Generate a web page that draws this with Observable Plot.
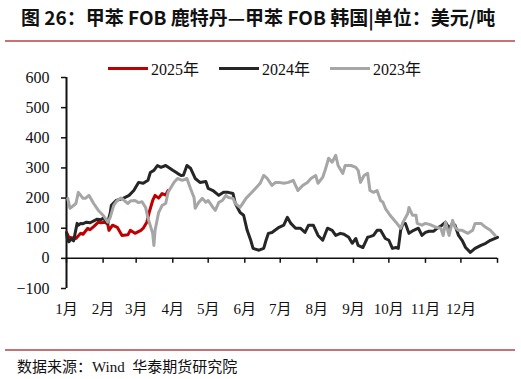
<!DOCTYPE html>
<html><head><meta charset="utf-8">
<script src="https://cdn.jsdelivr.net/npm/d3@7"></script>
<script src="https://cdn.jsdelivr.net/npm/@observablehq/plot@0.6"></script>
<style>
body{margin:0;background:#fff;width:521px;height:379px;position:relative;overflow:hidden;font-family:"Liberation Serif","Noto Sans CJK SC",serif;}
#title{position:absolute;left:21px;top:4px;font-family:"Noto Sans CJK SC",sans-serif;font-weight:bold;font-size:19px;color:#111;white-space:pre;line-height:26px}
.rule{position:absolute;left:5px;width:510px;height:2px;background:#C87373}
#legend{position:absolute;top:58px;left:108px;height:20px;display:flex;align-items:center;font-size:16px;color:#111;white-space:nowrap}
.item{display:flex;align-items:center;margin-right:20px}
.sw{width:40px;height:3px;margin-right:3px}
#chart{position:absolute;left:0;top:50px}
#caption{position:absolute;left:17px;top:355px;font-size:15px;color:#111;white-space:nowrap}
</style></head>
<body>
<div id="title">图 26：甲苯 FOB 鹿特丹—甲苯 FOB 韩国|单位：美元/吨</div>
<div class="rule" style="top:40px"></div>
<div id="legend"></div>
<div id="chart"></div>
<div class="rule" style="top:349px"></div>
<div id="caption">数据来源：Wind&nbsp; 华泰期货研究院</div>
<script>
const seriesNames = ["2025年", "2024年", "2023年"];
const seriesColors = ["#C00000", "#262626", "#A6A6A6"];
const monthLabels = ["1月","2月","3月","4月","5月","6月","7月","8月","9月","10月","11月","12月"];
const monthStarts = [0,31,59,90,120,151,181,212,243,273,304,334,365];
const yTicks = [-100,0,100,200,300,400,500,600];

const days2025 = [0,2,8,12,14,18,20,23,27,29,33,35,36,39,43,47,52,54,58,63,65,68,70,73,75,78,81,84,86];
const vals2025 = [86,70,66,83,80,100,95,105,120,118,120,112,93,110,103,76,78,93,83,93,100,120,152,192,209,200,215,210,225];

const days2024 = [0,1,2,4,6,9,10,12,14,17,20,24,26,29,31,33,35,36,37,38,42,48,53,57,61,65,69,71,74,77,80,84,90,94,97,99,102,105,109,113,118,120,124,129,133,137,141,143,147,150,153,156,158,163,167,169,171,174,180,184,187,190,194,198,202,205,209,213,217,221,225,228,232,235,239,242,245,247,251,255,257,260,263,266,270,273,276,279,281,283,285,287,290,294,298,301,304,307,311,314,318,321,324,327,329,332,335,338,342,346,351,355,359,365];
const vals2024 = [85,60,55,65,58,116,110,116,115,120,118,126,130,128,133,126,116,136,150,176,192,199,209,225,252,249,259,285,292,308,302,308,292,282,275,276,308,299,265,252,255,232,225,209,219,219,215,182,152,143,93,60,33,27,33,60,83,86,103,110,136,116,100,100,86,110,110,76,60,100,93,76,83,80,70,50,66,43,36,70,72,76,93,93,66,60,33,36,33,93,116,116,83,93,100,76,86,90,90,100,110,120,100,116,110,76,60,36,20,33,43,50,60,70];

const days2023 = [1,3,8,10,14,16,19,23,27,31,35,37,40,43,46,48,52,54,58,61,64,67,69,73,74,75,78,81,84,86,91,94,98,102,105,108,109,112,115,118,120,124,126,129,132,135,137,141,143,147,152,156,160,164,167,170,174,177,180,184,188,192,196,200,204,207,211,213,217,219,222,225,228,230,234,236,241,245,247,249,252,255,257,260,263,266,268,270,274,279,283,285,289,290,293,296,297,301,304,308,313,317,319,321,324,327,329,332,335,340,344,346,351,355,359,363];
const vals2023 = [199,166,182,219,199,199,209,182,159,143,120,136,176,192,200,195,182,190,192,185,188,169,133,83,43,93,152,176,182,219,252,265,259,265,232,202,166,186,199,186,192,169,159,186,192,209,202,199,182,169,199,215,232,249,275,265,242,252,252,249,252,259,225,242,252,265,275,249,269,292,332,319,342,308,282,308,308,302,292,252,275,282,225,219,225,192,186,166,143,120,100,120,149,169,143,143,116,110,116,112,103,100,76,120,76,126,103,93,93,83,93,116,116,103,93,76];

const allDays = [days2025, days2024, days2023];
const allVals = [vals2025, vals2024, vals2023];
const rows = [];
allDays.forEach((ds, s) => ds.forEach((d, i) => rows.push({series: seriesNames[s], day: d, value: allVals[s][i]})));

const leg = document.getElementById("legend");
seriesNames.forEach((n, i) => {
  const it = document.createElement("div"); it.className = "item";
  it.innerHTML = `<div class="sw" style="background:${seriesColors[i]}"></div><span>${n}</span>`;
  leg.appendChild(it);
});

const lineMarks = seriesNames.map((n, i) =>
  Plot.line(rows.filter(r => r.series === n), {x: "day", y: "value", stroke: seriesColors[i], strokeWidth: 3, strokeLinejoin: "round"}));

const chart = Plot.plot({
  width: 521, height: 290,
  marginLeft: 66, marginRight: 24, marginTop: 27, marginBottom: 52,
  x: {domain: [0, 365]},
  y: {domain: [-100, 600]},
  style: {fontFamily: '"Liberation Serif","Noto Sans CJK SC",serif', fontSize: "16px", color: "#111", background: "transparent"},
  marks: [
    Plot.axisY({ticks: yTicks, tickSize: 5, tickPadding: 12, strokeWidth: 1.5, stroke: "#111", fontSize: 16, label: null}),
    Plot.ruleX([0], {y1: -100, y2: 600, stroke: "#111", strokeWidth: 2}),
    Plot.ruleY([0], {stroke: "#111", strokeWidth: 1.5}),
    Plot.ruleX(monthStarts, {y1: 0, y2: 0, insetBottom: -5, stroke: "#111", strokeWidth: 1.5}),
    Plot.axisX({ticks: monthStarts.slice(0, 12), tickFormat: (d, i) => monthLabels[i], tickSize: 0, tickPadding: 15, fontSize: 15, label: null}),
    ...lineMarks
  ]
});
document.getElementById("chart").appendChild(chart);
</script>
</body></html>
